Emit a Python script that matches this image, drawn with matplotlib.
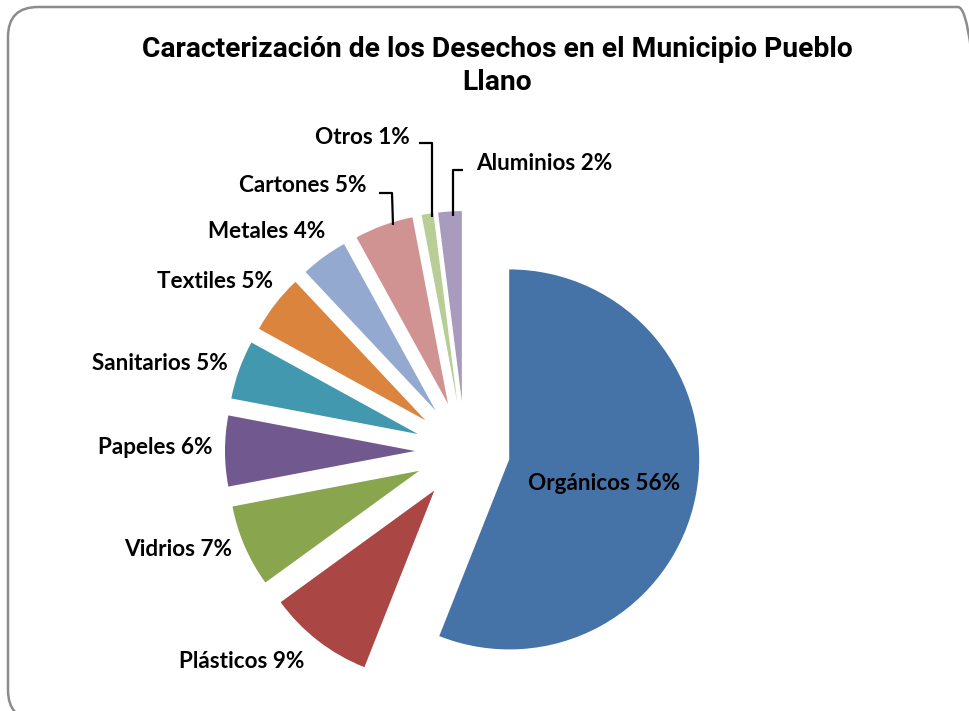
import matplotlib
matplotlib.use("Agg")
import matplotlib.pyplot as plt
from matplotlib.patches import FancyBboxPatch

# ---- data ----
categories = ["Orgánicos", "Plásticos", "Vidrios", "Papeles", "Sanitarios",
              "Textiles", "Metales", "Cartones", "Otros", "Aluminios"]
values = [56, 9, 7, 6, 5, 5, 4, 5, 1, 2]
title = "Caracterización de los Desechos en el Municipio Pueblo\nLlano"

# ---- style / layout ----
colors = ["#4572A7", "#AA4643", "#89A54E", "#71588F", "#4198AF",
          "#DB843D", "#93A9CF", "#D19392", "#B9CD96", "#A99BBD"]
W, H = 969, 711
CX, CY = 465, H - 451      # pie centre (pixel coords, y up)
R = 190
explode = [45, 50, 50, 50, 50, 50, 50, 50, 50, 50]

# label centres (pixel coords, y down)
label_pos = [(604, 483), (242, 662), (178, 549), (155, 447), (160, 364),
             (215, 281), (267, 232), (303, 186), (362, 137), (544, 163)]
# leader lines (pixel coords, y down)
leaders = {7: [(379, 193), (392, 193), (393, 225)],
           8: [(419, 143), (432, 143), (432, 217)],
           9: [(463, 170), (453, 170), (453, 216)]}

fig = plt.figure(figsize=(W / 100, H / 100), dpi=100)
ax = fig.add_axes([0, 0, 1, 1])

ax.pie(values, colors=colors, startangle=90, counterclock=False,
       center=(CX, CY), radius=R, explode=explode, frame=True,
       wedgeprops=dict(linewidth=0))
ax.set_xlim(0, W)
ax.set_ylim(0, H)
ax.set_aspect("equal", adjustable="box")
ax.axis("off")

lab_font = dict(family=["Lato", "DejaVu Sans"], fontweight="bold",
                fontsize=16.2, color="black", ha="center", va="center")
for i, (cat, v) in enumerate(zip(categories, values)):
    x, y = label_pos[i]
    ax.text(x, H - y, f"{cat} {v}%", **lab_font)

for pts in leaders.values():
    ax.plot([p[0] for p in pts], [H - p[1] for p in pts],
            color="black", linewidth=1.6, solid_capstyle="butt")

ax.text(497, H - 66, title, ha="center", va="center",
        family=["Roboto", "Liberation Sans", "DejaVu Sans"],
        fontweight="bold", fontsize=20.3, linespacing=1.25)

border = FancyBboxPatch((8, H - 720), 980, 713,
                        boxstyle="round,pad=0,rounding_size=30",
                        fill=False, edgecolor="#8C8C8C", linewidth=1.8,
                        clip_on=False)
ax.add_patch(border)

fig.savefig("out.png", dpi=100)
